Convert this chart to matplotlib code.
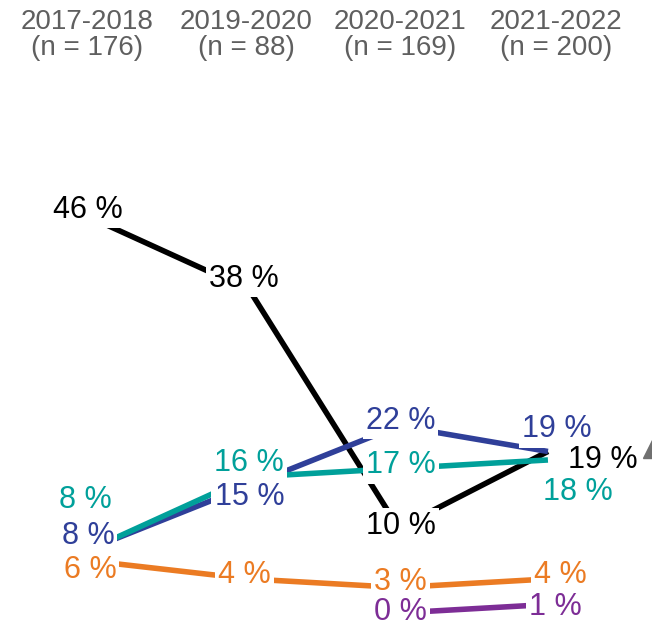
import numpy as np
import matplotlib.pyplot as plt

plt.rcParams['font.family'] = ['Liberation Sans', 'DejaVu Sans']

periods = ['2017-2018', '2019-2020', '2020-2021', '2021-2022']
counts = [176, 88, 169, 200]

black = [46, 38, 10, 19]
blue = [8, 15, 22, 19]
teal = [8, 16, 17, 18]
orange = [6, 4, 3, 4]
purple = [np.nan, np.nan, 0, 1]

# colour, label offsets (pixels) so the numbers don't collide, label layer
series = [
    (black, '#000000', [(-12, 12), (-5, 11), (2, 2), (55, -9)], 8),
    (blue, '#2F3F99', [(-12, 9), (0, -12), (2, 5), (9, 22)], 7),
    (teal, '#00A09A', [(-15, 45), (0, 14), (2, 3), (30, -32)], 9),
    (orange, '#EB7B23', [(-10, -8), (-5, 4), (2, 5), (12, 4)], 6),
    (purple, '#7D2D96', [None, None, (2, 1), (7, -3)], 10),
]

x = np.arange(len(periods))

fig = plt.figure(figsize=(6.52, 6.23), dpi=100)
ax = fig.add_axes([0, 0, 1, 1])
ax.set_xlim(-0.670, 3.697)
ax.set_ylim(-1.18, 72.11)
ax.axis('off')

for vals, col, offs, z in series:
    ax.plot(x, vals, color=col, lw=4, solid_capstyle='butt', zorder=2)
    for xi, v, off in zip(x, vals, offs):
        if off is None or np.isnan(v):
            continue
        ax.annotate(f'{v:g} %', (xi, v), xytext=off, textcoords='offset pixels',
                    ha='center', va='center', fontsize=22, color=col, zorder=z,
                    bbox=dict(boxstyle='square,pad=0.1', fc='white', ec='none'))

# column headers
hdr_off = [-13, -3, 1, 8]
for xi, p, n, o in zip(x, periods, counts, hdr_off):
    ax.annotate(f'{p}\n(n = {n})', (xi, 1), xycoords=('data', 'axes fraction'),
                xytext=(o, -9), textcoords='offset pixels', ha='center', va='top',
                fontsize=20, color='#5F5F5F', linespacing=0.98)

# marker cut at the right edge
ax.plot([1.0], [0.279], marker='^', ms=13, color='#707070', transform=ax.transAxes,
        clip_on=False)

fig.savefig('out.png', dpi=100)
